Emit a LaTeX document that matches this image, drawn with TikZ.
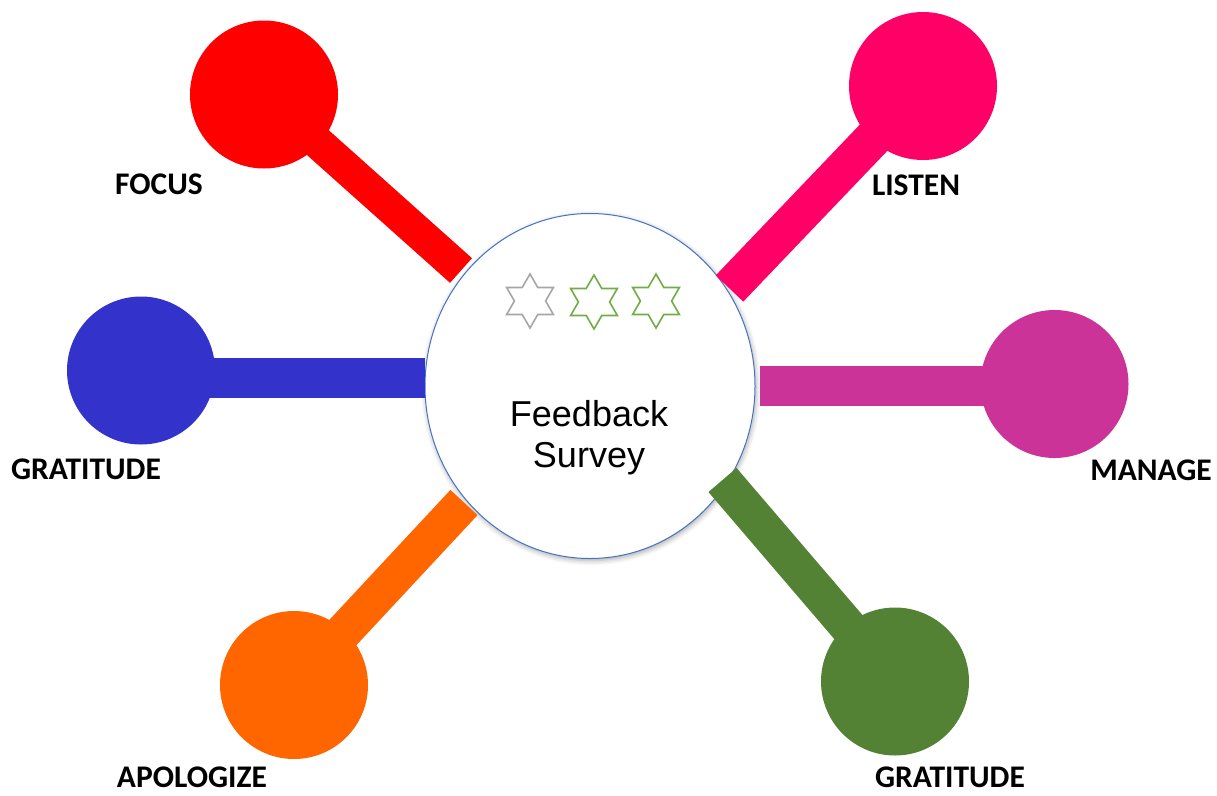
\documentclass[tikz,border=0pt]{standalone}
\usepackage{fontspec}
\setmainfont{Liberation Sans}
\newfontfamily\labelfont{Carlito}
\usepackage{tikz}
\usetikzlibrary{shapes.geometric}
\usetikzlibrary{shadows.blur}
\definecolor{focusred}{HTML}{FF0000}
\definecolor{listenpink}{HTML}{FF0066}
\definecolor{thanksblue}{HTML}{3333CC}
\definecolor{managemag}{HTML}{CC3399}
\definecolor{sorryorange}{HTML}{FF6600}
\definecolor{thanksgreen}{HTML}{548235}
\definecolor{rimblue}{HTML}{4472C4}
\definecolor{stargray}{HTML}{A6A6A6}
\definecolor{stargreen}{HTML}{70AD47}
\tikzset{
  ball/.style={circle, inner sep=0pt, minimum size=148pt},
  stick/.style={line width=#1, line cap=butt},
  stick/.default=38pt,
  tag/.style={anchor=base, inner sep=1pt, font=\labelfont\bfseries\fontsize{31.5}{37}\selectfont},
  rating/.style={star, star points=6, star point ratio=1.732, inner sep=0pt,
    minimum size=54pt, line width=1.6pt, fill=white},
}

\begin{document}
\begin{tikzpicture}[x=1pt, y=-1pt]
    \useasboundingbox (0,0) rectangle (1217,795);
    % hub
    \node[ellipse, draw=rimblue, line width=1pt, fill=white, inner sep=0pt,
      minimum width=330pt, minimum height=345pt,
      blur shadow={shadow xshift=1pt, shadow yshift=-2pt, shadow blur radius=5pt, shadow opacity=35}]
      (survey) at (590,386) {};
    \node[align=center, font=\fontsize{36}{41}\selectfont] (title) at (589,438) {Feedback\\Survey};
    \node[rating, draw=stargray] (s1) at (530,301) {};
    \node[rating, draw=stargreen] (s2) at (594,302) {};
    \node[rating, draw=stargreen] (s3) at (656,301) {};
    % balls
    \node[ball, fill=focusred] (focus) at (264,94.5) {};
    \node[ball, fill=listenpink] (listen) at (923,86) {};
    \node[ball, fill=thanksblue] (thanksl) at (141,370.5) {};
    \node[ball, fill=managemag] (manage) at (1054.5,384) {};
    \node[ball, fill=sorryorange] (sorry) at (294,685) {};
    \node[ball, fill=thanksgreen] (thanksr) at (895,681.5) {};
    % stick ends
    \coordinate (efocus) at (461,270.5);
    \coordinate (elisten) at (729.5,288.5);
    \coordinate (ethanksl) at (425,378);
    \coordinate (emanage) at (760,386);
    \coordinate (esorry) at (464,502.5);
    \coordinate (ethanksr) at (722.5,480);
    \draw[stick=33pt, focusred] (focus.center) -- (efocus);
    \draw[stick, listenpink] (listen.center) -- (elisten);
    \draw[stick=40pt, thanksblue] (thanksl.center |- ethanksl) -- (ethanksl);
    \draw[stick=40pt, managemag] (emanage) -- (emanage -| manage.center);
    \draw[stick=37pt, sorryorange] (sorry.center) -- (esorry);
    \draw[stick=37pt, thanksgreen] (thanksr.center) -- (ethanksr);
    % labels
    \node[tag] (tfocus) at (159,194) {FOCUS};
    \node[tag] (tlisten) at (916,195) {LISTEN};
    \node[tag] (tthanksl) at (86,479) {GRATITUDE};
    \node[tag] (tmanage) at (1151,480) {MANAGE};
    \node[tag] (tsorry) at (192,787) {APOLOGIZE};
    \node[tag] (tthanksr) at (950,787) {GRATITUDE};
  \end{tikzpicture}
\end{document}
